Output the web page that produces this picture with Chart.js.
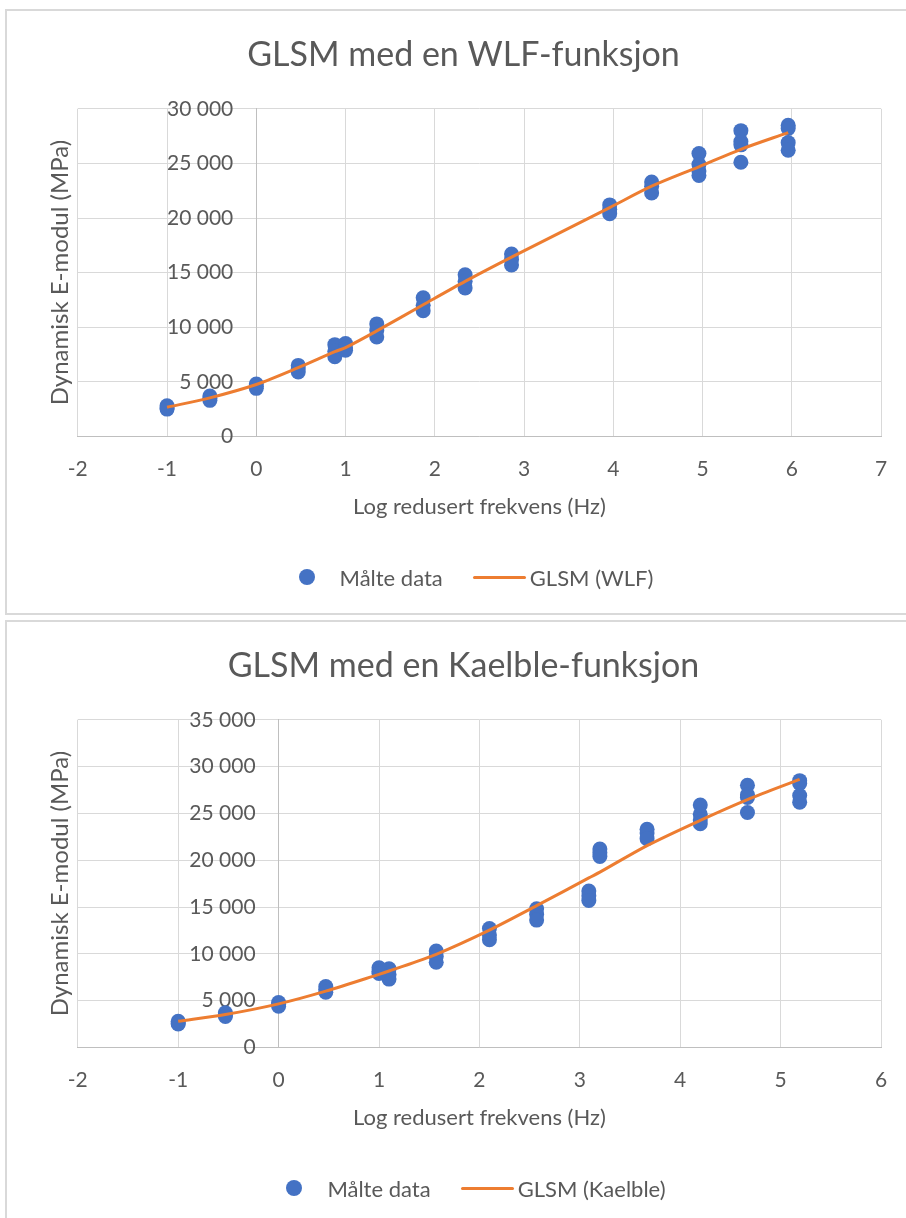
<!DOCTYPE html>
<html>
<head>
<meta charset="utf-8">
<title>GLSM</title>
<script src="https://cdn.jsdelivr.net/npm/chart.js@4.4.1/dist/chart.umd.min.js"></script>
<style>
  body { margin: 0; background: #fff; font-family: Lato, sans-serif; }
  .panel { position: absolute; left: 5px; width: 911px; height: 602px; border: 2px solid #d9d9d9; background: #fff; }
  #panel1 { top: 9px; }
  #panel2 { top: 620px; }
  .panel canvas { position: absolute; left: 0; top: 0; }
  .legend { position: absolute; left: 34px; width: 870px; top: 552px; height: 28px;
            display: flex; justify-content: center; align-items: center;
            font-size: 22px; color: #595959; }
  .legend .item { display: flex; align-items: center; margin: 0 15px; }
  .legend .dot { width: 16px; height: 16px; border-radius: 50%; margin-right: 25px; }
  .legend .line { width: 53px; height: 3px; margin-right: 4px; border-radius: 2px; }
</style>
</head>
<body>
<div class="panel" id="panel1">
  <canvas id="chartWlf" width="911" height="602"></canvas>
  <div class="legend" id="legendWlf"></div>
</div>
<div class="panel" id="panel2">
  <canvas id="chartKaelble" width="911" height="602"></canvas>
  <div class="legend" id="legendKaelble"></div>
</div>
<script>
// Measured dynamic modulus (MPa), one group per test condition
const measuredE = [
  [2800, 2600, 2500],
  [3700, 3500, 3300],
  [4800, 4600, 4400],
  [6500, 6200, 5900],
  [8400, 7800, 7300],
  [8500, 8100, 7900],
  [10300, 9700, 9100],
  [12700, 12000, 11500],
  [14800, 14200, 13600],
  [16700, 16200, 15700],
  [21200, 20800, 20400],
  [23300, 22900, 22300],
  [25900, 24900, 24300, 23900],
  [28000, 27000, 26700, 25100],
  [28500, 28200, 26900, 26200]
];

// Log reduced frequency of each group with the two shift functions
const xWlf = [-1, -0.52, 0, 0.47, 0.88, 1.0, 1.35, 1.87, 2.34, 2.86, 3.96, 4.43, 4.96, 5.43, 5.96];
const xKaelble = [-1, -0.53, 0, 0.47, 1.1, 1.0, 1.57, 2.1, 2.57, 3.09, 3.2, 3.67, 4.2, 4.67, 5.19];

// Fitted GLSM curves
const wlfCurveX = [-1, -0.52, 0, 0.47, 0.88, 1.0, 1.35, 1.87, 2.34, 2.86, 3.96, 4.43, 4.96, 5.43, 5.96];
const wlfCurveE = [2670, 3530, 4750, 6290, 7760, 8130, 9660, 12050, 14190, 16410, 20950, 22910, 24690, 26290, 27820];
const kaelbleCurveX = [-1, -0.53, 0, 0.47, 1.0, 1.1, 1.57, 2.1, 2.57, 3.09, 3.2, 3.67, 4.2, 4.67, 5.19];
const kaelbleCurveE = [2790, 3510, 4650, 6010, 7800, 8160, 9950, 12530, 15140, 18110, 18720, 21560, 24260, 26480, 28630];

const BLUE = '#4472C4';
const ORANGE = '#ED7D31';
const TEXT = '#595959';
const GRID = '#d9d9d9';

Chart.defaults.font.family = 'Lato, sans-serif';
Chart.defaults.color = TEXT;

function fmtThousands(v) {
  return String(v).replace(/\B(?=(\d{3})+(?!\d))/g, ' ');
}

// value labels sit left of the vertical axis, which crosses at x = 0
const originTickLabels = {
  id: 'originTickLabels',
  beforeDatasetsDraw(chart, args, opts) {
    const { ctx, scales: { x, y } } = chart;
    const right = x.getPixelForValue(0) - opts.padding;
    ctx.save();
    ctx.font = opts.size + 'px Lato, sans-serif';
    ctx.fillStyle = opts.color;
    ctx.textAlign = 'right';
    ctx.textBaseline = 'middle';
    y.ticks.forEach(t => {
      ctx.fillText(fmtThousands(t.value), right, y.getPixelForValue(t.value));
    });
    ctx.restore();
  }
};

function measuredPoints(xs) {
  const pts = [];
  measuredE.forEach((group, i) => {
    group.forEach(e => pts.push({ x: xs[i], y: e }));
  });
  return pts;
}

function curvePoints(xs, es) {
  return xs.map((x, i) => ({ x: x, y: es[i] }));
}

function buildChart(canvasId, legendId, cfg) {
  const ctx = document.getElementById(canvasId).getContext('2d');
  const chart = new Chart(ctx, {
    type: 'scatter',
    plugins: [originTickLabels],
    data: {
      datasets: [
        {
          label: 'Målte data',
          data: measuredPoints(cfg.xs),
          backgroundColor: BLUE,
          borderColor: BLUE,
          pointRadius: 7.5,
          pointBorderWidth: 0,
          order: 1
        },
        {
          label: cfg.curveLabel,
          data: curvePoints(cfg.curveX, cfg.curveE),
          showLine: true,
          borderColor: ORANGE,
          backgroundColor: ORANGE,
          borderWidth: 3,
          pointRadius: 0,
          tension: 0.3,
          order: 0
        }
      ]
    },
    options: {
      responsive: false,
      animation: false,
      layout: { padding: { left: 39, right: 37, top: 0, bottom: 93 } },
      plugins: {
        legend: { display: false },
        tooltip: { enabled: false },
        originTickLabels: { padding: 23, size: 21, color: TEXT },
        title: {
          display: true,
          text: cfg.title,
          color: TEXT,
          font: { size: 34, weight: 'normal' },
          padding: { top: 24, bottom: 33 }
        }
      },
      scales: {
        x: {
          type: 'linear',
          min: cfg.xMin,
          max: cfg.xMax,
          ticks: { stepSize: 1, padding: 20, font: { size: 21 }, color: TEXT },
          grid: { color: GRID, drawTicks: false },
          border: { color: '#bfbfbf' },
          title: {
            display: true,
            text: 'Log redusert frekvens (Hz)',
            color: TEXT,
            font: { size: 22 },
            padding: { top: -8, bottom: 0 }
          }
        },
        y: {
          type: 'linear',
          position: { x: 0 },
          min: 0,
          max: cfg.yMax,
          ticks: { stepSize: 5000, display: false },
          grid: { color: GRID, drawTicks: false },
          border: { color: '#bfbfbf' }
        },
        yTitle: {
          type: 'linear',
          axis: 'y',
          position: 'left',
          min: 0,
          max: cfg.yMax,
          ticks: { display: false },
          grid: { display: false, drawTicks: false },
          border: { display: false },
          title: {
            display: true,
            text: 'Dynamisk E-modul (MPa)',
            color: TEXT,
            font: { size: 24 },
            padding: { top: 0, bottom: 3 }
          }
        }
      }
    }
  });

  // legend below the plot, built from the datasets
  const legend = document.getElementById(legendId);
  chart.data.datasets.forEach(ds => {
    const item = document.createElement('div');
    item.className = 'item';
    const mark = document.createElement('span');
    mark.className = ds.showLine ? 'line' : 'dot';
    mark.style.background = ds.borderColor;
    const label = document.createElement('span');
    label.textContent = ds.label;
    item.appendChild(mark);
    item.appendChild(label);
    legend.appendChild(item);
  });
  return chart;
}

buildChart('chartWlf', 'legendWlf', {
  title: 'GLSM med en WLF-funksjon',
  curveLabel: 'GLSM (WLF)',
  xs: xWlf,
  curveX: wlfCurveX,
  curveE: wlfCurveE,
  xMin: -2,
  xMax: 7,
  yMax: 30000
});

buildChart('chartKaelble', 'legendKaelble', {
  title: 'GLSM med en Kaelble-funksjon',
  curveLabel: 'GLSM (Kaelble)',
  xs: xKaelble,
  curveX: kaelbleCurveX,
  curveE: kaelbleCurveE,
  xMin: -2,
  xMax: 6,
  yMax: 35000
});
</script>
</body>
</html>
